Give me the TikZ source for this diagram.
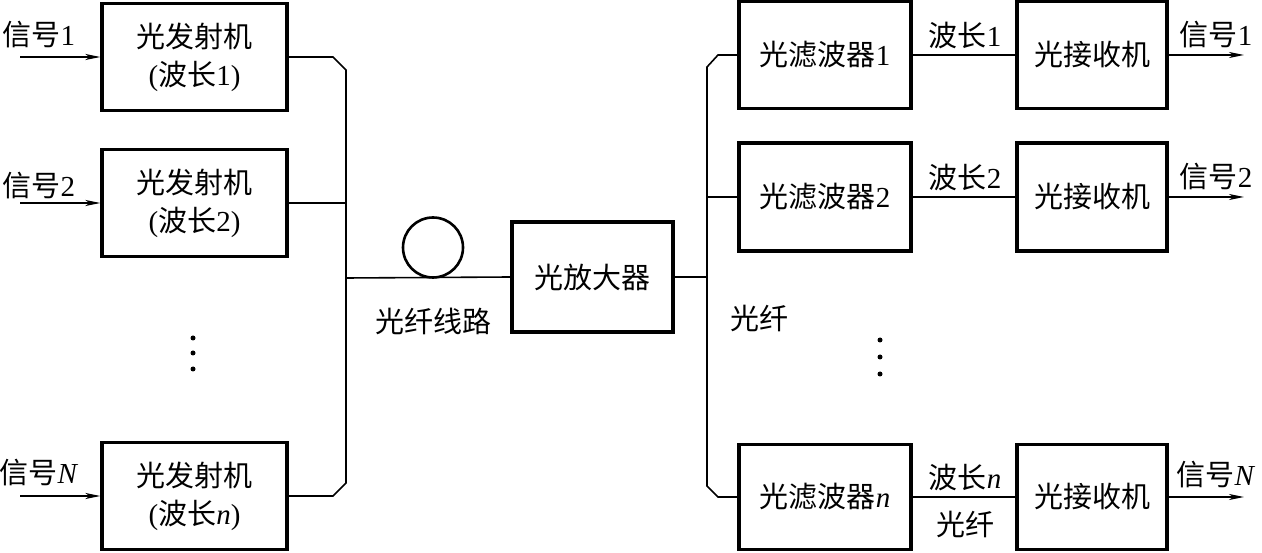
\documentclass[tikz,border=0pt]{standalone}
\usepackage{fontspec}
\setmainfont{Liberation Serif}
\newfontfamily\cjk{Noto Sans CJK SC}
\usetikzlibrary{arrows.meta}
\begin{document}
\begin{tikzpicture}[x=1pt,y=-1pt,
  box/.style={draw,line width=3.2pt,minimum height=107pt,inner sep=0pt,align=center,font=\fontsize{29}{38}\selectfont},
  wire/.style={line width=1.6pt},
  arr/.style={wire,-{Stealth[length=15pt,width=6pt,inset=4pt]}},
  lbl/.style={inner sep=0pt,font=\fontsize{29}{32}\selectfont},
  dotn/.style={circle,fill,inner sep=0pt,minimum size=5pt}]
\useasboundingbox (0,0) rectangle (1262,553);
% transmitters
\node[box,minimum width=185pt] (tx1) at (194.5,57) {{\cjk 光发射机}\\({\cjk 波长}1)};
\node[box,minimum width=185pt] (tx2) at (194.5,203) {{\cjk 光发射机}\\({\cjk 波长}2)};
\node[box,minimum width=185pt] (txN) at (194.5,496) {{\cjk 光发射机}\\({\cjk 波长}\textit{n})};
% input signals
\coordinate (in1) at (20,57);
\coordinate (in2) at (20,203);
\coordinate (inN) at (20,496);
\draw[arr] (in1) -- (tx1.west);
\draw[arr] (in2) -- (tx2.west);
\draw[arr] (inN) -- (txN.west);
\node[lbl] (s1) at (39,35) {{\cjk 信号}1};
\node[lbl] (s2) at (39,186) {{\cjk 信号}2};
\node[lbl] (sN) at (39,473) {{\cjk 信号}\textit{N}};
% dots left
\node[dotn] (dl1) at (193,338) {};
\node[dotn] (dl2) at (193,353) {};
\node[dotn] (dl3) at (193,369) {};
% left bus
\coordinate (b1a) at (333,57);
\coordinate (b1b) at (346,70);
\coordinate (b2) at (346,203);
\coordinate (bm) at (346,278);
\coordinate (bNb) at (346,483);
\coordinate (bNa) at (333,496);
\draw[wire] (tx1.east) -- (b1a) -- (b1b) -- (bNb) -- (bNa) -- (txN.east);
\draw[wire] (tx2.east) -- (b2);
% fibre line and amplifier
\node[box,minimum width=161pt,minimum height=110pt] (amp) at (592.5,277) {{\cjk 光放大器}};
\node[draw,circle,line width=2.6pt,minimum size=60pt,inner sep=0pt] (coil) at (433,247.5) {};
\draw[wire] (bm) -- (amp.west);
\node[lbl] (fl) at (433,321) {{\cjk 光纤线路}};
% right bus
\coordinate (rm) at (707,277);
\coordinate (r1b) at (707,67);
\coordinate (r1a) at (718,55);
\coordinate (r2) at (707,197);
\coordinate (rNb) at (707,486);
\coordinate (rNa) at (718,497);
\draw[wire] (amp.east) -- (rm);
\node[box,minimum width=172pt] (f1) at (825,55) {{\cjk 光滤波器}1};
\node[box,minimum width=172pt,minimum height=108pt] (f2) at (825,197) {{\cjk 光滤波器}2};
\node[box,minimum width=172pt,minimum height=105pt] (fN) at (825,497) {{\cjk 光滤波器}\textit{n}};
\draw[wire] (f1.west) -- (r1a) -- (r1b) -- (rNb) -- (rNa) -- (fN.west);
\draw[wire] (r2) -- (f2.west);
\node[lbl] (fr) at (759,318) {{\cjk 光纤}};
\node[dotn] (dr1) at (880,340) {};
\node[dotn] (dr2) at (880,357) {};
\node[dotn] (dr3) at (880,374) {};
% receivers
\node[box,minimum width=150pt] (rx1) at (1092,55) {{\cjk 光接收机}};
\node[box,minimum width=150pt,minimum height=108pt] (rx2) at (1092,197) {{\cjk 光接收机}};
\node[box,minimum width=150pt,minimum height=105pt] (rxN) at (1092,497) {{\cjk 光接收机}};
\draw[wire] (f1.east) -- (rx1.west);
\draw[wire] (f2.east) -- (rx2.west);
\draw[wire] (fN.east) -- (rxN.west);
\node[lbl] (w1) at (965,35) {{\cjk 波长}1};
\node[lbl] (w2) at (965,177) {{\cjk 波长}2};
\node[lbl] (wN) at (965,477) {{\cjk 波长}\textit{n}};
\node[lbl] (wf) at (965,524) {{\cjk 光纤}};
% outputs
\coordinate (o1) at (1244,55);
\coordinate (o2) at (1244,197);
\coordinate (oN) at (1244,497);
\draw[arr] (rx1.east) -- (o1);
\draw[arr] (rx2.east) -- (o2);
\draw[arr] (rxN.east) -- (oN);
\node[lbl] (t1) at (1216,35) {{\cjk 信号}1};
\node[lbl] (t2) at (1216,177) {{\cjk 信号}2};
\node[lbl] (tN) at (1216,475) {{\cjk 信号}\textit{N}};
\end{tikzpicture}
\end{document}
